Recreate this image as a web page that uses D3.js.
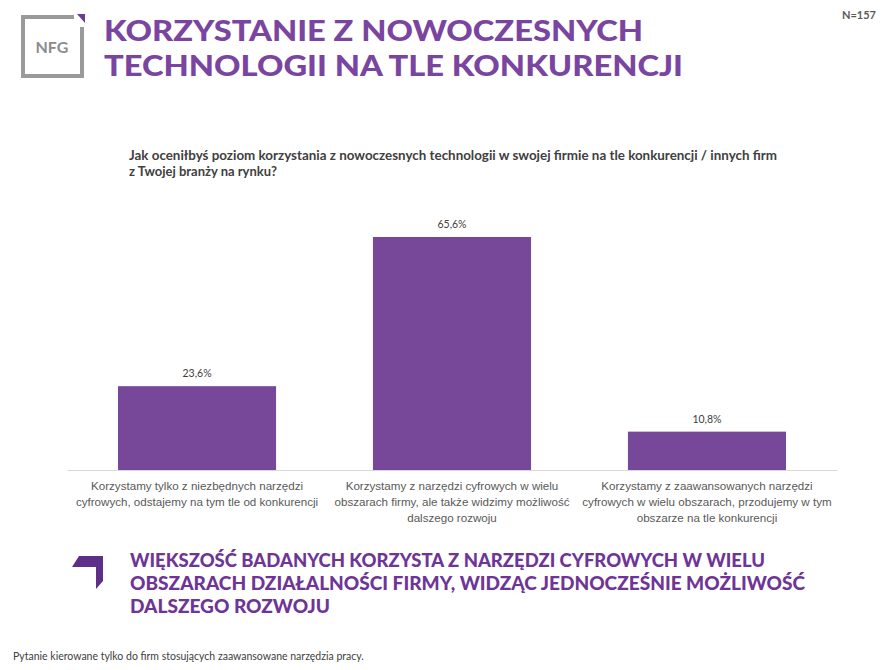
<!DOCTYPE html>
<html>
<head>
<meta charset="utf-8">
<script src="https://cdn.jsdelivr.net/npm/d3@7"></script>
<style>
  body { margin: 0; background: #fff; }
  svg { display: block; font-family: Lato, "Open Sans", sans-serif; }
</style>
</head>
<body>
<script>
var width = 891, height = 670;

// dane
var categories = ["A", "B", "C"];
var categoryLines = [
  ["Korzystamy tylko z niezbędnych narzędzi", "cyfrowych, odstajemy na tym tle od konkurencji"],
  ["Korzystamy z narzędzi cyfrowych w wielu", "obszarach firmy, ale także widzimy możliwość", "dalszego rozwoju"],
  ["Korzystamy z zaawansowanych narzędzi", "cyfrowych w wielu obszarach, przodujemy w tym", "obszarze na tle konkurencji"]
];
var values = [23.6, 65.6, 10.8];
var titleLines = ["KORZYSTANIE Z NOWOCZESNYCH", "TECHNOLOGII NA TLE KONKURENCJI"];
var questionLines = ["Jak oceniłbyś poziom korzystania z nowoczesnych technologii w swojej firmie na tle konkurencji / innych firm", "z Twojej branży na rynku?"];
var calloutLines = ["WIĘKSZOŚĆ BADANYCH KORZYSTA Z NARZĘDZI CYFROWYCH W WIELU", "OBSZARACH DZIAŁALNOŚCI FIRMY, WIDZĄC JEDNOCZEŚNIE MOŻLIWOŚĆ", "DALSZEGO ROZWOJU"];

var purple = "#77479a";

var svg = d3.select("body").append("svg")
  .attr("width", width)
  .attr("height", height);

// logo NFG
var logo = svg.append("g");
logo.append("polyline")
  .attr("points", "74,17 23,17 23,76 82,76 82,27")
  .attr("fill", "none")
  .attr("stroke", "#9a9a9a")
  .attr("stroke-width", 4);
logo.append("polygon")
  .attr("points", "77,14 85,14 85,23")
  .attr("fill", "#6a3d93");
logo.append("text")
  .attr("x", 52).attr("y", 53)
  .attr("text-anchor", "middle")
  .attr("font-size", 16)
  .attr("font-weight", 700)
  .attr("fill", "#8c8c8c")
  .text("NFG");

// tytul
svg.selectAll(".title")
  .data(titleLines)
  .enter().append("text")
  .attr("class", "title")
  .attr("x", 104)
  .attr("y", function(d, i) { return 41 + i * 35; })
  .attr("font-size", 29)
  .attr("font-weight", 900)
  .attr("fill", "#7a45a0")
  .attr("textLength", function(d, i) { return i == 0 ? 539 : 579; })
  .attr("lengthAdjust", "spacingAndGlyphs")
  .text(function(d) { return d; });

svg.append("text")
  .attr("x", 876).attr("y", 19)
  .attr("text-anchor", "end")
  .attr("font-size", 11)
  .attr("font-weight", 700)
  .attr("fill", "#595959")
  .text("N=157");

// pytanie
svg.selectAll(".question")
  .data(questionLines)
  .enter().append("text")
  .attr("class", "question")
  .attr("x", 129)
  .attr("y", function(d, i) { return 160 + i * 16; })
  .attr("font-size", 13)
  .attr("font-weight", 700)
  .attr("fill", "#404040")
  .attr("textLength", function(d, i) { return i == 0 ? 648 : null; })
  .attr("lengthAdjust", "spacingAndGlyphs")
  .text(function(d) { return d; });

// skale
var xScale = d3.scaleBand().domain(categories).range([67, 837]).paddingInner(0.38).paddingOuter(0.2);
var yScale = d3.scaleLinear().domain([0, 65.6]).range([470, 237]);

svg.selectAll(".bar")
  .data(values)
  .enter().append("rect")
  .attr("class", "bar")
  .attr("x", function(d, i) { return xScale(categories[i]); })
  .attr("y", function(d) { return yScale(d); })
  .attr("width", xScale.bandwidth())
  .attr("height", function(d) { return yScale(0) - yScale(d); })
  .attr("fill", purple);

svg.selectAll(".val")
  .data(values)
  .enter().append("text")
  .attr("class", "val")
  .attr("x", function(d, i) { return xScale(categories[i]) + xScale.bandwidth() / 2; })
  .attr("y", function(d) { return yScale(d) - 9; })
  .attr("text-anchor", "middle")
  .attr("font-size", 10.5)
  .attr("fill", "#404040")
  .text(function(d) { return d3.format(".1f")(d).replace(".", ",") + "%"; });

// os X
var xAxis = d3.axisBottom(xScale).tickSize(0).tickFormat("");
var xAxisGroup = svg.append("g")
  .attr("transform", "translate(0," + yScale(0) + ")")
  .call(xAxis);
xAxisGroup.select(".domain").attr("stroke", "#d9d9d9").attr("stroke-width", 1);

xAxisGroup.selectAll(".tick text").remove();
xAxisGroup.selectAll(".tick")
  .append("text")
  .attr("text-anchor", "middle")
  .attr("font-size", 11.6)
  .attr("fill", "#595959")
  .each(function(d, i) {
    var t = d3.select(this);
    categoryLines[i].forEach(function(line, j) {
      t.append("tspan").attr("x", 0).attr("y", 20 + j * 16).text(line);
    });
  });

// wniosek
svg.append("polygon")
  .attr("points", "79,556 103,556 103,581 96,589 96,567 72,567")
  .attr("fill", "#5e2f88");

svg.selectAll(".callout")
  .data(calloutLines)
  .enter().append("text")
  .attr("class", "callout")
  .attr("x", 130)
  .attr("y", function(d, i) { return 567 + i * 23; })
  .attr("font-size", 18.5)
  .attr("font-weight", 900)
  .attr("fill", "#6e3596")
  .attr("textLength", function(d, i) { return [635, 675, 200][i]; })
  .attr("lengthAdjust", "spacingAndGlyphs")
  .text(function(d) { return d; });

svg.append("text")
  .attr("x", 13).attr("y", 660)
  .attr("font-size", 10.5)
  .attr("fill", "#404040")
  .text("Pytanie kierowane tylko do firm stosujących zaawansowane narzędzia pracy.");
</script>
</body>
</html>
